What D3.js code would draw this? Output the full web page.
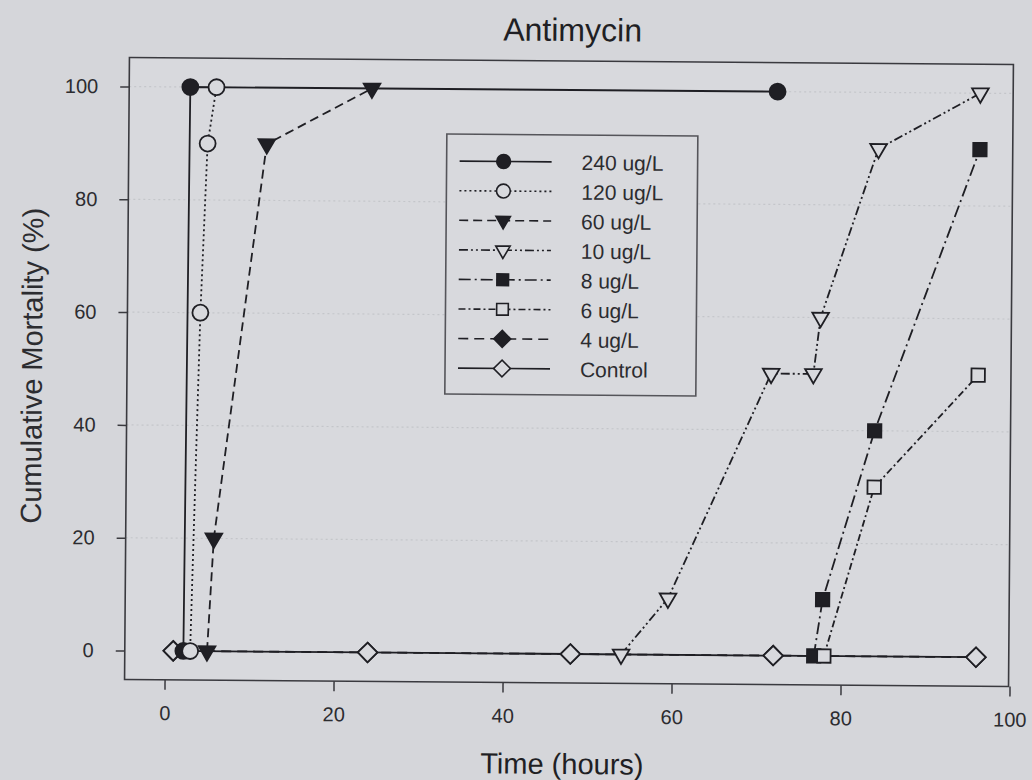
<!DOCTYPE html>
<html>
<head>
<meta charset="utf-8">
<script src="https://cdn.jsdelivr.net/npm/d3@7"></script>
<style>
  html, body { margin: 0; padding: 0; background: #d5d6da; }
  svg { display: block; font-family: "Liberation Sans", Arial, sans-serif; }
  .tick text { fill: #2c2c30; }
</style>
</head>
<body>
<div id="plot-area"></div>
<script>
// series labels (legend order)
const seriesLabels = ["240 ug/L", "120 ug/L", "60 ug/L", "10 ug/L", "8 ug/L", "6 ug/L", "4 ug/L", "Control"];

// time (hours) and cumulative mortality (%) per series
const hours240 = [2.2, 2.5, 72];
const mort240 = [0, 100, 100];
const hours120 = [3, 3.9, 4.6, 5.6];
const mort120 = [0, 60, 90, 100];
const hours60 = [5, 5.7, 11.6, 24];
const mort60 = [0, 20, 90, 100];
const hours10 = [54, 59.5, 71.5, 76.5, 77.3, 84, 96];
const mort10 = [0, 10, 50, 50, 60, 90, 100];
const hours8 = [76.8, 77.8, 83.8, 96];
const mort8 = [0, 10, 40, 90];
const hours6 = [78, 83.8, 96];
const mort6 = [0, 30, 50];
const hours4 = [1, 24, 48, 72, 96];
const mort4 = [0, 0, 0, 0, 0];
const hoursCtrl = [1, 24, 48, 72, 96];
const mortCtrl = [0, 0, 0, 0, 0];

const xTicks = [0, 20, 40, 60, 80, 100];
const yTicks = [0, 20, 40, 60, 80, 100];

const W = 1032, H = 780;
const frame = {left: 127, right: 1011, top: 61, bottom: 683};
const ink = "#1f1f24";

const x = d3.scaleLinear().domain([0, 100]).range([167, 1012]);
const y = d3.scaleLinear().domain([0, 100]).range([654, 90]);

// style per series: dash pattern, marker shape, filled or open
const styles = [
    {dash: null,            shape: "circle",   fill: true},
    {dash: "2,3",           shape: "circle",   fill: false},
    {dash: "9,5",           shape: "triDown",  fill: true},
    {dash: "9,3,2,3,2,3",   shape: "triDown",  fill: false},
    {dash: "12,4,2,4",      shape: "square",   fill: true},
    {dash: "7,3,2,3",       shape: "square",   fill: false},
    {dash: "10,6",          shape: "diamond",  fill: true},
    {dash: null,            shape: "diamond",  fill: false}
];

const seriesData = [
    d3.zip(hours240, mort240),
    d3.zip(hours120, mort120),
    d3.zip(hours60, mort60),
    d3.zip(hours10, mort10),
    d3.zip(hours8, mort8),
    d3.zip(hours6, mort6),
    d3.zip(hours4, mort4),
    d3.zip(hoursCtrl, mortCtrl)
];

function symbolPath(shape, scale) {
    let s = scale || 1;
    if (shape === "circle") return d3.symbol(d3.symbolCircle, 200 * s)();
    if (shape === "triDown") return d3.symbol(d3.symbolTriangle, 120 * s)();
    if (shape === "square") return d3.symbol(d3.symbolSquare, 180 * s)();
    return d3.symbol(d3.symbolSquare, 190 * s)();
}
function symbolRotate(shape) {
    if (shape === "triDown") return 180;
    if (shape === "diamond") return 45;
    return 0;
}

const svg = d3.select("#plot-area").append("svg")
    .attr("width", W)
    .attr("height", H);

svg.append("rect").attr("width", W).attr("height", H).attr("fill", "#d5d6da");

// the scanned figure sits slightly tilted
const g = svg.append("g").attr("transform", "rotate(0.45,570,370)");

g.append("rect")
    .attr("x", frame.left).attr("y", frame.top)
    .attr("width", frame.right - frame.left).attr("height", frame.bottom - frame.top)
    .attr("fill", "#d8d9dd");

// faint grid
g.append("g").selectAll("line").data(yTicks.slice(1)).join("line")
    .attr("x1", frame.left).attr("x2", frame.right)
    .attr("y1", d => y(d)).attr("y2", d => y(d))
    .attr("stroke", "#c4c6ca").attr("stroke-width", 1.2)
    .attr("stroke-dasharray", "2,3");

// frame
g.append("rect")
    .attr("x", frame.left).attr("y", frame.top)
    .attr("width", frame.right - frame.left).attr("height", frame.bottom - frame.top)
    .attr("fill", "none").attr("stroke", "#3a3a3f").attr("stroke-width", 1.6);

//Draw x-axis
const xAxis = d3.axisBottom(x).tickValues(xTicks).tickSize(10).tickPadding(16);
g.append("g")
    .attr("transform", "translate(0," + frame.bottom + ")")
    .call(xAxis)
    .call(a => a.select(".domain").remove())
    .call(a => a.selectAll(".tick line").attr("stroke", "#3a3a3f").attr("stroke-width", 1.5))
    .call(a => a.selectAll(".tick text").attr("font-size", 20));

//Draw y-axis
const yAxis = d3.axisLeft(y).tickValues(yTicks).tickSize(9).tickPadding(22);
g.append("g")
    .attr("transform", "translate(" + frame.left + ",0)")
    .call(yAxis)
    .call(a => a.select(".domain").remove())
    .call(a => a.selectAll(".tick line").attr("stroke", "#3a3a3f").attr("stroke-width", 1.5))
    .call(a => a.selectAll(".tick text").attr("font-size", 20));

// titles
g.append("text")
    .attr("x", 570).attr("y", 41)
    .attr("text-anchor", "middle")
    .attr("font-size", 32)
    .attr("fill", ink)
    .text("Antimycin");

g.append("text")
    .attr("x", 565).attr("y", 774)
    .attr("text-anchor", "middle")
    .attr("font-size", 29)
    .attr("fill", ink)
    .text("Time (hours)");

g.append("text")
    .attr("transform", "translate(42,370) rotate(-90)")
    .attr("text-anchor", "middle")
    .attr("font-size", 29)
    .attr("fill", "#2c2c30")
    .text("Cumulative Mortality (%)");

// lines and markers, drawn so the control sits under the exposed series
const drawOrder = [6, 7, 0, 1, 2, 3, 4, 5];
const line = d3.line().x(d => x(d[0])).y(d => y(d[1]));

drawOrder.forEach(function (i) {
    let st = styles[i];
    let sg = g.append("g");
    sg.append("path")
        .datum(seriesData[i])
        .attr("d", line)
        .attr("fill", "none")
        .attr("stroke", ink)
        .attr("stroke-width", 1.8)
        .attr("stroke-dasharray", st.dash);
    sg.selectAll("path.mk").data(seriesData[i]).join("path")
        .attr("class", "mk")
        .attr("d", symbolPath(st.shape))
        .attr("transform", d => "translate(" + x(d[0]) + "," + y(d[1]) + ") rotate(" + symbolRotate(st.shape) + ")")
        .attr("fill", st.fill ? ink : "#d8d9dd")
        .attr("stroke", ink)
        .attr("stroke-width", 1.8);
});

// legend
const legend = g.append("g");
legend.append("rect")
    .attr("x", 445).attr("y", 135).attr("width", 251).attr("height", 260)
    .attr("fill", "#d8d9dd").attr("stroke", "#55555a").attr("stroke-width", 1.6);

const rowY = d3.scaleLinear().domain([0, 7]).range([162, 369]);
seriesLabels.forEach(function (label, i) {
    let st = styles[i];
    let ry = rowY(i);
    legend.append("line")
        .attr("x1", 458).attr("x2", 550).attr("y1", ry).attr("y2", ry)
        .attr("stroke", ink).attr("stroke-width", 1.6)
        .attr("stroke-dasharray", st.dash);
    legend.append("path")
        .attr("d", symbolPath(st.shape, 0.75))
        .attr("transform", "translate(502," + ry + ") rotate(" + symbolRotate(st.shape) + ")")
        .attr("fill", st.fill ? ink : "#d8d9dd")
        .attr("stroke", ink).attr("stroke-width", 1.6);
    legend.append("text")
        .attr("x", 580).attr("y", ry + 8)
        .attr("font-size", 21)
        .attr("fill", "#2c2c30")
        .text(label);
});
</script>
</body>
</html>
